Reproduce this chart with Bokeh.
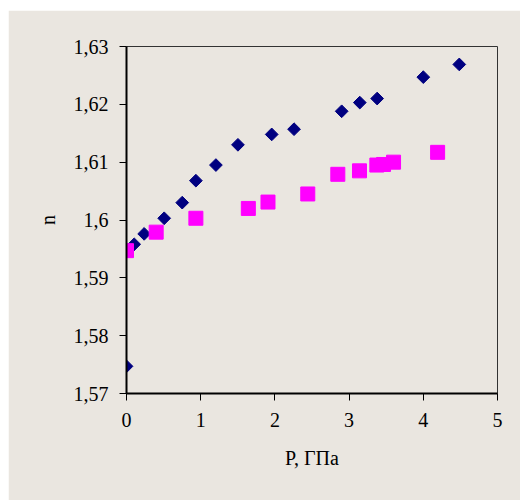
from bokeh.plotting import figure
from bokeh.models import Range1d, FixedTicker, CustomJSTickFormatter
from bokeh.embed import file_html
from bokeh.resources import INLINE
import math

# Series 1 (navy diamonds)
p1 = [0.0, 0.104, 0.238, 0.508, 0.751, 0.935, 1.205, 1.502, 1.957, 2.258,
      2.90, 3.144, 3.378, 4.00, 4.485]
n1 = [1.5747, 1.5958, 1.5976, 1.6003, 1.6030, 1.6068, 1.6095, 1.6130, 1.6148,
      1.6157, 1.6188, 1.6203, 1.6210, 1.6247, 1.6269]

# Series 2 (magenta squares)
p2 = [0.0, 0.40, 0.935, 1.642, 1.907, 2.443, 2.848, 3.14, 3.374, 3.464, 3.599, 4.193]
n2 = [1.5947, 1.5979, 1.6003, 1.6020, 1.6031, 1.6045, 1.6079, 1.6085, 1.6095,
      1.6096, 1.6100, 1.6117]

x_ticks = [0, 1, 2, 3, 4, 5]
y_ticks = [1.57, 1.58, 1.59, 1.60, 1.61, 1.62, 1.63]

BG = "#EAE6E0"
FONT = "'Liberation Serif', 'Times New Roman', 'DejaVu Serif', serif"
FS = "20px"

p = figure(width=512, height=490, output_backend="svg", toolbar_location=None,
           x_range=Range1d(0, 5), y_range=Range1d(1.57, 1.63),
           min_border_left=118, min_border_right=23, min_border_top=36,
           min_border_bottom=107)
p.margin = (10, 0, 0, 8)
p.background_fill_color = BG
p.border_fill_color = BG
p.outline_line_color = "#333333"
p.outline_line_width = 1
p.xgrid.visible = False
p.ygrid.visible = False

p.scatter(p1, n1, marker="square", angle=math.pi / 4, size=9,
          fill_color="#000080", line_color="#000080")
p.scatter(p2, n2, marker="square", size=14,
          fill_color="#FF00FF", line_color="#FF00FF")

for ax in (p.xaxis[0], p.yaxis[0]):
    ax.axis_line_color = "black"
    ax.axis_line_width = 2
    ax.major_tick_line_color = "black"
    ax.major_tick_line_width = 1
    ax.major_tick_in = 0
    ax.major_tick_out = 7
    ax.minor_tick_line_color = None
    ax.major_label_text_font = FONT
    ax.major_label_text_font_size = FS
    ax.major_label_text_color = "black"
    ax.axis_label_text_font = FONT
    ax.axis_label_text_font_size = FS
    ax.axis_label_text_font_style = "normal"
    ax.axis_label_text_color = "black"

p.xaxis[0].ticker = FixedTicker(ticks=x_ticks)
p.yaxis[0].ticker = FixedTicker(ticks=y_ticks)
p.yaxis[0].formatter = CustomJSTickFormatter(
    code="return tick.toFixed(2).replace(/0$/, '').replace('.', ',');")
p.xaxis[0].major_label_standoff = 12
p.yaxis[0].major_label_standoff = 11
p.xaxis[0].axis_label = "P, ГПа"
p.yaxis[0].axis_label = "n"
p.xaxis[0].axis_label_standoff = 17
p.yaxis[0].axis_label_standoff = 12

open("out.html", "w").write(file_html(p, INLINE))
